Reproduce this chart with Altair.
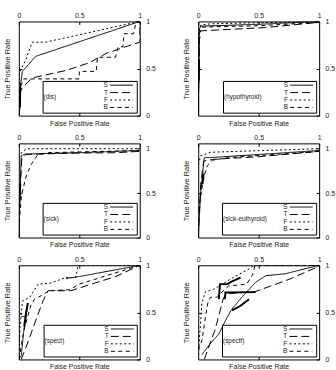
import altair as alt
import pandas as pd

FONT = "Liberation Sans"
SERIES = ["S", "T", "F", "B"]
DASH_PATTERNS = [[1, 0], [8, 4], [2, 2.5], [4, 3.5]]

NAMES = ["dis", "hypothyroid", "sick", "sick-euthyroid", "spect", "spectf"]
Y_MAX = [1.0, 1.0, 1.06, 1.06, 1.0, 1.0]

# ---- dis ----
DIS_S = [(0, 0), (0.01, 0.09), (0.012, 0.31), (0.03, 0.47), (0.14, 0.63), (1, 1)]
DIS_T = [(0, 0.22), (0.03, 0.3), (0.11, 0.4), (0.39, 0.48), (0.58, 0.56), (0.72, 0.66), (0.88, 0.73), (1, 0.78), (1, 1)]
DIS_F = [(0, 0), (0.003, 0.45), (0.06, 0.6), (0.11, 0.78), (0.22, 0.78), (1, 1)]
DIS_B = [(0, 0), (0.005, 0.28), (0.04, 0.39), (0.5, 0.39), (0.5, 0.47), (0.64, 0.47), (0.65, 0.62), (0.8, 0.62),
         (0.82, 0.73), (0.86, 0.73), (0.87, 0.87), (0.95, 0.87), (0.97, 1), (1, 1)]
DIS_DENSE = [[(0.009, 0.09), (0.012, 0.31)]]

# ---- hypothyroid ----
HYPO_S = [(0, 0), (0.005, 0.5), (0.01, 0.92), (0.02, 0.95), (0.5, 0.97), (1, 1)]
HYPO_T = [(0, 0), (0.01, 0.8), (0.02, 0.9), (0.55, 0.935), (1, 0.99), (1, 1)]
HYPO_F = [(0, 0), (0.005, 0.9), (0.02, 0.96), (0.1, 0.975), (1, 1)]
HYPO_B = [(0, 0), (0.008, 0.88), (0.03, 0.94), (0.5, 0.955), (1, 0.99), (1, 1)]
HYPO_DENSE = [[(0.0035, 0.35), (0.006, 0.6)]]

# ---- sick ----
SICK_S = [(0, 0), (0.003, 0.35), (0.012, 0.6), (0.02, 0.92), (0.05, 0.94), (0.5, 0.955), (1, 0.98)]
SICK_T = [(0, 0), (0.01, 0.5), (0.025, 0.9), (0.06, 0.935), (0.4, 0.95), (0.8, 0.955), (1, 0.97)]
SICK_F = [(0, 0.9), (0.03, 0.97), (0.07, 1.0), (1, 1.0)]
SICK_B = [(0, 0), (0.005, 0.2), (0.022, 0.47), (0.056, 0.67), (0.1, 0.82), (0.15, 0.92), (0.22, 0.955), (1, 0.98)]
SICK_DENSE = [[(0.003, 0.35), (0.012, 0.6)]]

# ---- sick-euthyroid ----
SE_S = [(0, 0), (0.02, 0.5), (0.05, 0.9), (0.1, 0.9), (0.5, 0.935), (1, 0.98)]
SE_T = [(0, 0), (0.02, 0.6), (0.045, 0.86), (0.12, 0.88), (0.5, 0.91), (1, 0.97)]
SE_F = [(0, 0.82), (0.02, 0.92), (0.1, 0.96), (1, 1.0)]
SE_B = [(0, 0.3), (0.03, 0.55), (0.047, 0.68), (0.075, 0.81), (0.116, 0.87), (0.25, 0.9), (1, 0.97)]
SE_DENSE = [[(0.035, 0.6), (0.045, 0.72)]]

# ---- spect ----
SPECT_S = [(0, 0), (0.02, 0.04), (0.045, 0.35), (0.06, 0.46), (0.075, 0.6), None,
           (0.39, 0.86), (0.5, 0.88), (1, 1), None, (0.02, 0.455), (0.06, 0.455)]
SPECT_T = [(0.02, 0), (0.08, 0.2), (0.15, 0.45), (0.2, 0.62), (0.24, 0.73), (0.43, 0.73), (0.6, 0.8), (0.8, 0.88), (1, 1)]
SPECT_F = [(0, 0), (0.01, 0.35), (0.03, 0.62), (0.09, 0.66), (0.13, 0.74), (0.16, 0.8), (0.26, 0.81),
           (0.39, 0.87), (0.47, 0.87), (0.49, 1.0), (1, 1)]
SPECT_B = [(0, 0), (0.04, 0.3), (0.1, 0.58), (0.13, 0.64), (0.19, 0.68), (0.25, 0.73), (0.42, 0.74),
           (0.5, 0.8), (0.65, 0.86), (1, 1)]
SPECT_DENSE = [[(0.045, 0.35), (0.06, 0.5), (0.075, 0.6)]]

# ---- spectf ----
SPECTF_S = [(0.03, 0.05), (0.1, 0.17), (0.17, 0.27), (0.22, 0.4), (0.27, 0.52), (0.36, 0.66),
            (0.475, 0.82), (0.56, 0.89), (0.72, 0.91), (1, 1)]
SPECTF_T = [(0.05, 0.0), (0.14, 0.32), (0.21, 0.66), (0.26, 0.7), (0.47, 0.72), (0.75, 0.85), (1, 0.99)]
SPECTF_F = [(0, 0.05), (0.02, 0.4), (0.03, 0.6), (0.06, 0.72), (0.12, 0.74), (0.2, 0.8), (0.3, 0.88),
            (0.42, 0.96), (0.46, 1.0), (1, 1)]
SPECTF_B = [(0, 0.1), (0.03, 0.2), (0.06, 0.45), (0.08, 0.6), (0.1, 0.66), (0.15, 0.66), (0.25, 0.78),
            (0.4, 0.8), (0.45, 0.9), (0.47, 1.0), (1, 1)]
SPECTF_DENSE = [[(0.28, 0.52), (0.35, 0.57), (0.42, 0.64)],
                [(0.22, 0.64), (0.225, 0.71), (0.475, 0.715)],
                [(0.17, 0.64), (0.18, 0.8), (0.24, 0.8), (0.28, 0.83), (0.35, 0.87)]]

CURVES = [
    [DIS_S, DIS_T, DIS_F, DIS_B],
    [HYPO_S, HYPO_T, HYPO_F, HYPO_B],
    [SICK_S, SICK_T, SICK_F, SICK_B],
    [SE_S, SE_T, SE_F, SE_B],
    [SPECT_S, SPECT_T, SPECT_F, SPECT_B],
    [SPECTF_S, SPECTF_T, SPECTF_F, SPECTF_B],
]
DENSE = [DIS_DENSE, HYPO_DENSE, SICK_DENSE, SE_DENSE, SPECT_DENSE, SPECTF_DENSE]

# approximate Arial glyph widths (em) for legend sizing
CHAR_W = {'(': 0.333, ')': 0.333, 'd': 0.556, 'i': 0.222, 's': 0.5, 'h': 0.556, 'y': 0.5,
          'p': 0.556, 'o': 0.556, 't': 0.278, 'r': 0.333, 'c': 0.5, 'k': 0.5, 'e': 0.556,
          'u': 0.556, '-': 0.333, 'f': 0.278}
LEG_TITLE_SIZE = 6.5
PW, PH = 122, 95
INWARD = {"expr": "-3"}


def panel(idx):
    name = NAMES[idx]
    rows = []
    for s, pts in zip(SERIES, CURVES[idx]):
        part, order = 0, 0
        for p in pts:
            if p is None:
                part += 1
                continue
            rows.append({"series": s, "part": f"{s}{part}", "x": p[0], "y": p[1], "order": order})
            order += 1
    df = pd.DataFrame(rows)
    drows = []
    for k, seg in enumerate(DENSE[idx]):
        for i, (x, y) in enumerate(seg):
            drows.append({"seg": k, "x": x, "y": y, "order": i})
    ddf = pd.DataFrame(drows)

    xs = alt.Scale(domain=[0, 1], nice=False, zero=False)
    ys = alt.Scale(domain=[0, Y_MAX[idx]], nice=False, zero=False)

    title = f"({name})"
    tw = sum(CHAR_W.get(c, 0.5) for c in title) * LEG_TITLE_SIZE

    titles = alt.Chart(df).mark_point(opacity=0).encode(
        x=alt.X("x:Q", scale=xs, axis=alt.Axis(orient="bottom", title="False Positive Rate", labels=False,
                                                 values=[0.5], ticks=True, tickSize=INWARD,
                                                 domain=False, grid=False, titlePadding=3, titleFontSize=7)),
        y=alt.Y("y:Q", scale=ys, axis=alt.Axis(orient="left", title="True Positive Rate", labels=False,
                                                 values=[0.5], ticks=True, tickSize=INWARD,
                                                 domain=False, grid=False, titlePadding=7, titleFontSize=7.5)),
    )
    lines = alt.Chart(df).mark_line(color="black", strokeWidth=1, clip=True).encode(
        x=alt.X("x:Q", scale=xs, axis=alt.Axis(orient="top", title=None, values=[0, 0.5, 1], format="~g",
                                                 tickSize=INWARD, labelPadding=6, domain=False, grid=False,
                                                 labelFlush=False, labelOverlap=False)),
        y=alt.Y("y:Q", scale=ys, axis=alt.Axis(orient="right", title=None, values=[0, 0.5, 1], format="~g",
                                                 tickSize=INWARD, labelPadding=9, domain=False, grid=False,
                                                 labelFlush=False, labelOverlap=False)),
        strokeDash=alt.StrokeDash(
            "series:N",
            scale=alt.Scale(domain=SERIES, range=DASH_PATTERNS),
            legend=alt.Legend(
                title=title, orient="bottom-right", offset=3,
                titleOrient="left", titleAnchor="middle", titleAlign="left",
                titleFontSize=LEG_TITLE_SIZE, titleFontWeight="normal", titleFont=FONT, titleColor="#222",
                titlePadding=max(8, 58 - tw),
                labelFontSize=6.5, labelFont=FONT, labelColor="#222", labelAlign="right", labelOffset=0,
                symbolType="M2.2,0H11.4", symbolSize=25, symbolOffset=0,
                symbolStrokeWidth=1, symbolStrokeColor="black",
                strokeColor="black", fillColor="white", padding=1, rowPadding=0.5, cornerRadius=0,
            ),
        ),
        detail="part:N",
        order="order:Q",
    )
    dense = alt.Chart(ddf).mark_line(color="black", strokeWidth=2, clip=True).encode(
        x=alt.X("x:Q", scale=xs, axis=None),
        y=alt.Y("y:Q", scale=ys, axis=None),
        detail="seg:N",
        order="order:Q",
    )
    return (
        alt.layer(titles, lines, dense)
        .resolve_axis(x="independent", y="independent")
        .properties(width=PW, height=PH)
    )


def row(i):
    return (
        alt.hconcat(panel(2 * i), panel(2 * i + 1), spacing=26)
        .resolve_scale(x="independent", y="independent", strokeDash="independent")
        .resolve_legend(strokeDash="independent")
    )


chart = (
    alt.vconcat(row(0), row(1), row(2), spacing=6)
    .resolve_scale(x="independent", y="independent", strokeDash="independent")
    .resolve_legend(strokeDash="independent")
    .properties(padding={"left": 3, "top": 9, "right": 0, "bottom": 0})
    .configure(font=FONT)
    .configure_view(stroke="black", strokeWidth=1)
    .configure_axis(labelFont=FONT, titleFont=FONT, labelFontSize=7, titleFontSize=7,
                    titleFontWeight="normal", labelColor="#222", titleColor="#222", tickColor="black")
)

chart.save("out.html", embed_options={"renderer": "svg", "actions": False})
